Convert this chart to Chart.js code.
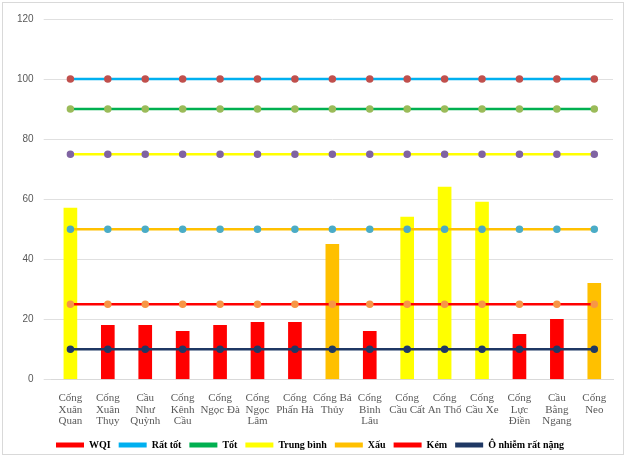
<!DOCTYPE html>
<html><head><meta charset="utf-8">
<script src="https://cdn.jsdelivr.net/npm/chart.js@4"></script>
<style>
body{margin:0;background:#fff}
#wrap{position:absolute;left:2px;top:2px;width:622px;height:453px;border:1px solid #d9d9d9;box-sizing:border-box}
</style></head><body>
<div id="wrap"><canvas id="c"></canvas></div>
<script>
const labels = [["Cống","Xuân","Quan"],["Cống","Xuân","Thụy"],["Cầu","Như","Quỳnh"],["Cống","Kênh","Cầu"],["Cống","Ngọc Đà"],["Cống","Ngọc","Lâm"],["Cống","Phấn Hà"],["Cống Bá","Thủy"],["Cống","Bình","Lâu"],["Cống","Cầu Cất"],["Cống","An Thổ"],["Cống","Cầu Xe"],["Cống","Lực","Điền"],["Cầu","Bằng","Ngang"],["Cống","Neo"]];
const wqi = [57, 18, 18, 16, 18, 19, 19, 45, 16, 54, 64, 59, 15, 20, 32];
const levels = [
  {name:"Rất tốt", value:100, line:"#00b0f0", dot:"#c0504d"},
  {name:"Tốt", value:90, line:"#00b050", dot:"#9bbb59"},
  {name:"Trung bình", value:75, line:"#ffff00", dot:"#8064a2"},
  {name:"Xấu", value:50, line:"#ffc000", dot:"#4bacc6"},
  {name:"Kém", value:25, line:"#ff0000", dot:"#f79646"},
  {name:"Ô nhiễm rất nặng", value:10, line:"#1f3864", dot:"#1f3864"}
];
const barColors = wqi.map(v => v > 50 ? "#ffff00" : v > 25 ? "#ffc000" : "#ff0000");

const datasets = [{
  type:"bar", label:"WQI", data:wqi, backgroundColor:barColors,
  barThickness:13, order:10
}];
levels.forEach((l, i) => {
  datasets.push({
    type:"line", label:l.name, data:labels.map(() => l.value),
    borderColor:l.line, backgroundColor:l.dot, pointBackgroundColor:l.dot,
    pointBorderColor:l.dot, pointRadius:2.5, borderWidth:2.5, order:i
  });
});

new Chart(document.getElementById("c"), {
  data:{labels, datasets},
  options:{
    responsive:true, maintainAspectRatio:false, animation:false,
    layout:{padding:{top:14,right:10,left:4,bottom:-6}},
    scales:{
      x:{grid:{display:false}, border:{color:"#d9d9d9"},
         ticks:{color:"#595959", font:{family:"Liberation Serif", size:11, lineHeight:1.05}, maxRotation:0, autoSkip:false, padding:5}},
      y:{min:0, max:120, ticks:{stepSize:20, color:"#595959", padding:10, font:{family:"Liberation Sans", size:10}},
         grid:{color:"#e0e0e0"}, border:{display:false}}
    },
    plugins:{
      legend:{position:"bottom", labels:{
        color:"#404040", font:{family:"Liberation Serif", size:10, weight:"bold"},
        boxWidth:28, boxHeight:5, padding:8,
        generateLabels(chart){
          return chart.data.datasets.map((d, i) => ({
            text:d.label, fillStyle:d.type === "bar" ? "#ff0000" : d.borderColor,
            strokeStyle:d.type === "bar" ? "#ff0000" : d.borderColor, lineWidth:0, datasetIndex:i
          }));
        }
      }},
      tooltip:{enabled:false}
    }
  }
});
</script></body></html>
